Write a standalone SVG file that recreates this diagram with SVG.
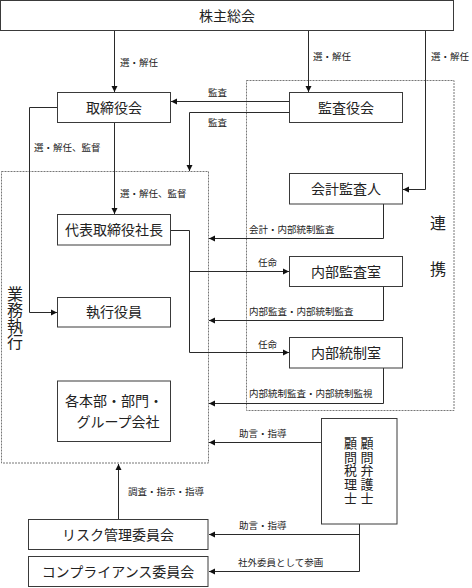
<svg xmlns="http://www.w3.org/2000/svg" width="472" height="588" viewBox="0 0 472 588">
<style>
.box{fill:#fff;stroke:#3a3a3a;stroke-width:1}
.dot{fill:none;stroke:#777;stroke-width:1;stroke-dasharray:2,1}
.ln{fill:none;stroke:#2a2a2a;stroke-width:1}
.arr{marker-end:url(#ah)}
.t{font-family:"Noto Sans CJK JP","Noto Sans",sans-serif;font-size:14px;fill:#222;text-anchor:middle}
.s{font-family:"Noto Sans CJK JP","Noto Sans",sans-serif;font-size:9.5px;fill:#222}
.v{font-family:"Noto Sans CJK JP","Noto Sans",sans-serif;fill:#222;writing-mode:vertical-rl}
</style>
<defs>
<marker id="ah" markerUnits="userSpaceOnUse" markerWidth="7" markerHeight="7" refX="6" refY="3.5" orient="auto">
<path d="M0,0.5 L6,3.5 L0,6.5 z" fill="#111"/>
</marker>
</defs>
<g id="frames">
<rect class="dot" x="1.5" y="171.5" width="207" height="291.5"/>
<rect class="dot" x="246.5" y="80.5" width="207.5" height="330"/>
</g>
<g id="connectors">
<path class="ln arr" d="M114.5,30 V92"/>
<path class="ln arr" d="M308.5,30 V92"/>
<path class="ln arr" d="M425.5,30 V189.5 H403"/>
<path class="ln arr" d="M289,101.5 H171"/>
<path class="ln arr" d="M289,112.5 H189.5 V171"/>
<path class="ln arr" d="M57,107.5 H29.5 V312.5 H57"/>
<path class="ln arr" d="M114.5,122 V214"/>
<path class="ln arr" d="M383.5,204 V238.5 H209"/>
<path class="ln arr" d="M170,230.5 H189.5 V352.5 H289"/>
<path class="ln arr" d="M189.5,271.5 H289"/>
<path class="ln arr" d="M383.5,286 V320.5 H209"/>
<path class="ln arr" d="M383.5,368 V403.5 H209"/>
<path class="ln arr" d="M321,442.5 H209"/>
<path class="ln arr" d="M359.5,524 V571.5 H209"/>
<path class="ln arr" d="M359.5,534.5 H209"/>
<path class="ln arr" d="M118.5,519 V464"/>
</g>
<g id="labels">
<text class="s" x="120" y="65.5">選・解任</text>
<text class="s" x="313" y="60">選・解任</text>
<text class="s" x="431" y="60">選・解任</text>
<text class="s" x="208" y="96">監査</text>
<text class="s" x="208" y="126">監査</text>
<text class="s" x="34" y="151">選・解任、監督</text>
<text class="s" x="120" y="196.5">選・解任、監督</text>
<text class="s" x="249" y="232.5">会計・内部統制監査</text>
<text class="s" x="258" y="265.5">任命</text>
<text class="s" x="249" y="315">内部監査・内部統制監査</text>
<text class="s" x="258" y="347.5">任命</text>
<text class="s" x="249" y="396.5">内部統制監査・内部統制監視</text>
<text class="s" x="239" y="436.5">助言・指導</text>
<text class="s" x="128" y="495">調査・指示・指導</text>
<text class="s" x="239" y="528.5">助言・指導</text>
<text class="s" x="238" y="566">社外委員として参画</text>
<text class="t" x="438" y="229" style="font-size:16px">連</text>
<text class="t" x="438" y="275" style="font-size:16px">携</text>
<text class="v" x="15" y="286" style="font-size:16px">業務執行</text>
</g>
<g id="n-kabunushi"><rect class="box" x="0.5" y="0.5" width="453" height="30"/><text class="t" x="227" y="20.5">株主総会</text></g>
<g id="n-torishimariyakukai"><rect class="box" x="57.5" y="92.5" width="113" height="30"/><text class="t" x="114" y="112.5">取締役会</text></g>
<g id="n-kansayakukai"><rect class="box" x="289.5" y="92.5" width="113" height="30"/><text class="t" x="346" y="112.5">監査役会</text></g>
<g id="n-kaikei"><rect class="box" x="289.5" y="173.5" width="113" height="30.5"/><text class="t" x="346" y="194">会計監査人</text></g>
<g id="n-shacho"><rect class="box" x="57.5" y="214.5" width="113" height="30.5"/><text class="t" x="114" y="235">代表取締役社長</text></g>
<g id="n-naibukansa"><rect class="box" x="289.5" y="256.5" width="113" height="30"/><text class="t" x="346" y="276.5">内部監査室</text></g>
<g id="n-shikkou"><rect class="box" x="57.5" y="297.5" width="113" height="29.5"/><text class="t" x="114" y="317">執行役員</text></g>
<g id="n-naibutousei"><rect class="box" x="289.5" y="337.5" width="113" height="30.5"/><text class="t" x="346" y="358">内部統制室</text></g>
<g id="n-honbu"><rect class="box" x="57.5" y="381" width="113" height="60.5"/><text class="t" x="114" y="406">各本部・部門・</text><text class="t" x="118" y="427">グループ会社</text></g>
<g id="n-komon"><rect class="box" x="321.5" y="418.5" width="75.5" height="105.5"/><text class="v" x="367" y="436.5" style="font-size:13px;letter-spacing:0.7px">顧問弁護士</text><text class="v" x="350.5" y="436.5" style="font-size:13px;letter-spacing:0.7px">顧問税理士</text></g>
<g id="n-risk"><rect class="box" x="28.5" y="519.5" width="179.5" height="30"/><text class="t" x="118" y="539.5">リスク管理委員会</text></g>
<g id="n-compliance"><rect class="box" x="28.5" y="556.5" width="179.5" height="30"/><text class="t" x="118" y="576.5">コンプライアンス委員会</text></g>
</svg>
